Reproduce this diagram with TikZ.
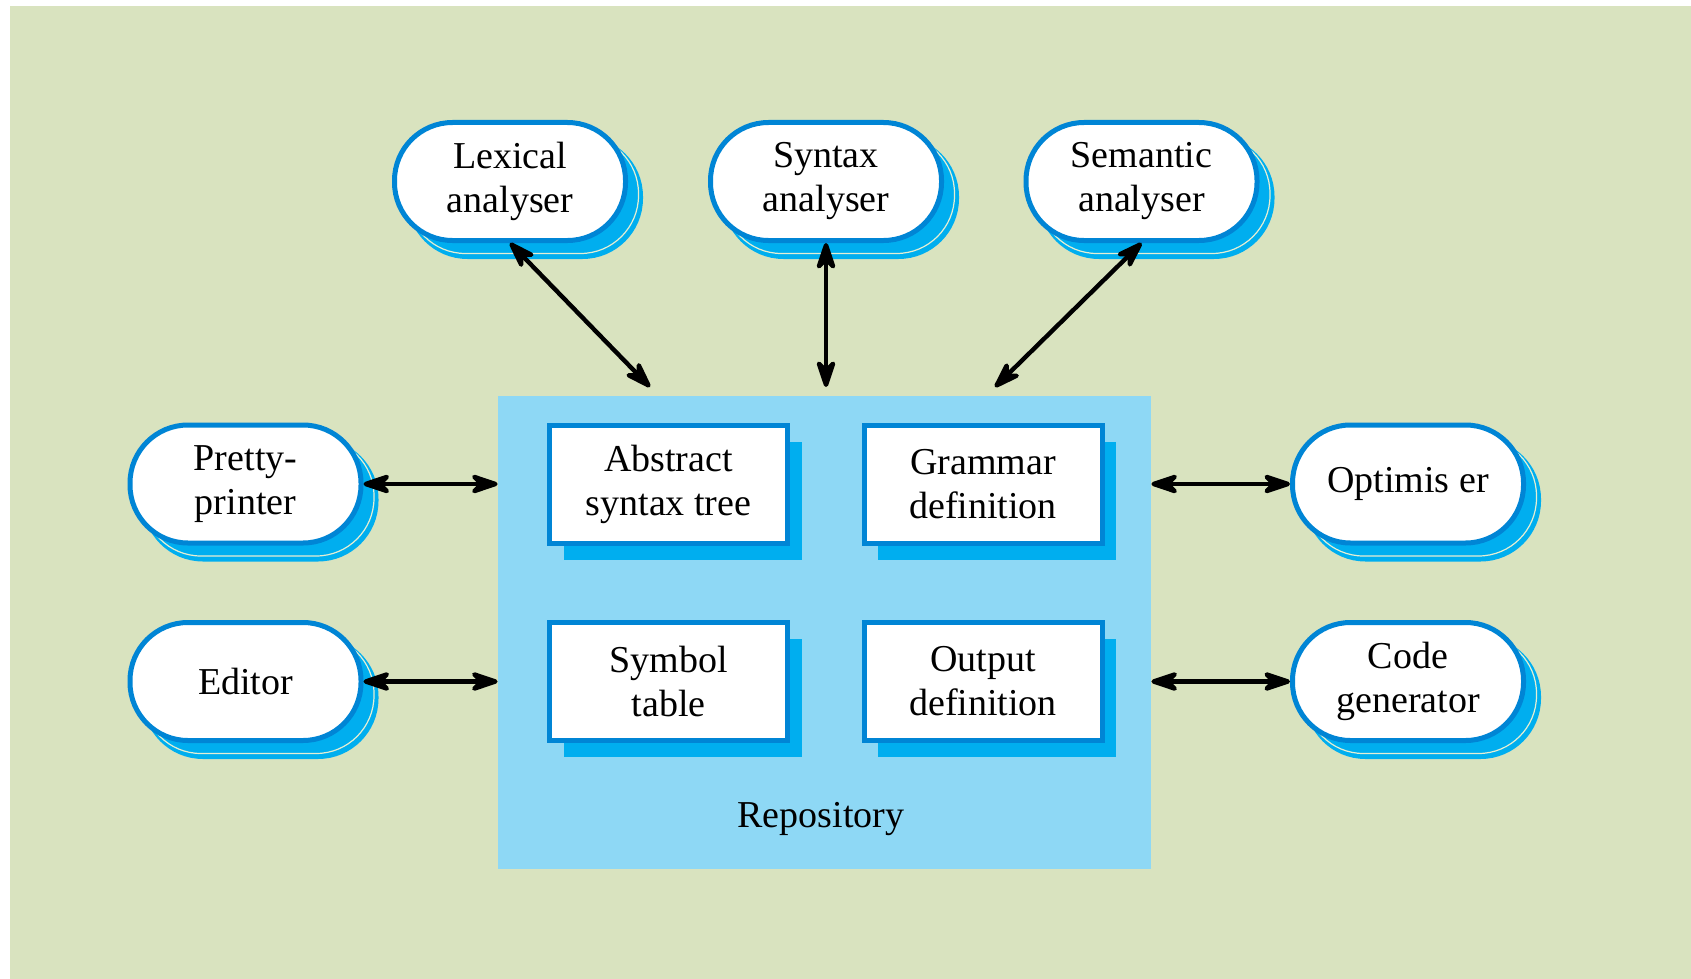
\documentclass[tikz,border=0pt]{standalone}
\usepackage{fontspec}
\setmainfont{Liberation Serif}
\usetikzlibrary{arrows.meta,shadows}
\definecolor{bggreen}{RGB}{217,227,191}
\definecolor{repoblue}{RGB}{142,216,245}
\definecolor{shadeblue}{RGB}{0,174,239}
\definecolor{edgeblue}{RGB}{0,133,213}
\definecolor{paleline}{RGB}{228,238,212}
\begin{document}
\begin{tikzpicture}[x=0.5pt,y=-0.5pt,
  every node/.style={font=\fontsize{19}{22}\selectfont,align=center},
  tool/.style={draw=edgeblue,line width=2.5pt,fill=white,rounded corners=29pt,
    minimum width=115.5pt,minimum height=59pt,inner sep=0pt,
    general shadow={fill=shadeblue,draw=shadeblue,line width=2.5pt,shadow xshift=7.5pt,shadow yshift=-8pt},
    general shadow={fill=shadeblue,draw=paleline,line width=0.6pt,shadow xshift=6.5pt,shadow yshift=-6.5pt}},
  store/.style={draw=edgeblue,line width=2.5pt,fill=white,
    minimum width=119pt,minimum height=59pt,inner sep=0pt,
    general shadow={fill=shadeblue,draw=none,shadow xshift=7pt,shadow yshift=-8pt}},
  both/.style={line width=2.2pt,line cap=round,
    {Stealth[length=18pt,width=12pt,inset=6pt,round]}-{Stealth[length=18pt,width=12pt,inset=6pt,round]}}
  ]
    \path[use as bounding box] (0,0) rectangle (1691,979);
    \fill[bggreen] (10,6) rectangle (1691,979);

    \node[fill=repoblue,minimum width=326.5pt,minimum height=236.5pt,inner sep=0pt] (repo) at (824.5,632.5) {};
    \node (repolabel) at (821,819) {Repository};
    \node[store] (ast) at (668.5,484.5) {Abstract\\syntax tree};
    \node[store] (grammar) at (983,484.5) {Grammar\\definition};
    \node[store] (symbols) at (668.5,681.5) {Symbol\\table};
    \node[store] (output) at (983,681.5) {Output\\definition};

    \node[tool] (lexical) at (510,181.5) {Lexical\\analyser};
    \node[tool] (syntax) at (826,181.5) {Syntax\\analyser};
    \node[tool] (semantic) at (1141.5,181.5) {Semantic\\analyser};
    \node[tool] (pretty) at (245.5,484) {Pretty-\\printer};
    \node[tool] (editor) at (245.5,681.5) {Editor};
    \node[tool] (optimiser) at (1408,484) {Optimis er};
    \node[tool] (codegen) at (1408,681.5) {Code\\generator};

    \coordinate (lexin) at (650,387);
    \coordinate (synin) at (826,387);
    \coordinate (semin) at (995,387);

    \draw[both] (lexical.south) -- (lexin);
    \draw[both] (syntax.south) -- (synin);
    \draw[both] (semantic.south) -- (semin);
    \draw[both] (pretty.east) -- (pretty.east -| repo.west);
    \draw[both] (editor.east) -- (editor.east -| repo.west);
    \draw[both] (optimiser.west -| repo.east) -- (optimiser.west);
    \draw[both] (codegen.west -| repo.east) -- (codegen.west);
\end{tikzpicture}
\end{document}
